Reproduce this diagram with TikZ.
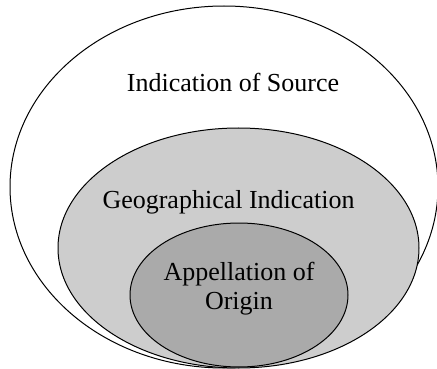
\documentclass[tikz,border=0pt]{standalone}
\usepackage{fontspec}
\setmainfont{Liberation Serif}
\usetikzlibrary{shapes.geometric}
\definecolor{giGray}{HTML}{CDCDCD}
\definecolor{aoGray}{HTML}{AAAAAA}
\tikzset{
  zone/.style={draw, ellipse, line width=1pt, inner sep=0pt, outer sep=0pt},
  label/.style={font=\fontsize{26}{29}\selectfont, align=center}
}
\begin{document}
\begin{tikzpicture}[x=1pt,y=-1pt]
\useasboundingbox (0,0) rectangle (437,369);
\node[zone, fill=white, minimum width=428pt, minimum height=362pt] (source) at (224,187) {};
\node[zone, fill=giGray, minimum width=361pt, minimum height=240pt] (geo) at (238.5,248) {};
\node[zone, fill=aoGray, minimum width=218pt, minimum height=144pt] (origin) at (239,295) {};

\node[label] (sourcetext) at (233,82) {Indication of Source};
\node[label] (geotext) at (228.5,202) {Geographical Indication};
\node[label] (origintext) at (239,289) {Appellation of\\Origin};
\end{tikzpicture}
\end{document}
